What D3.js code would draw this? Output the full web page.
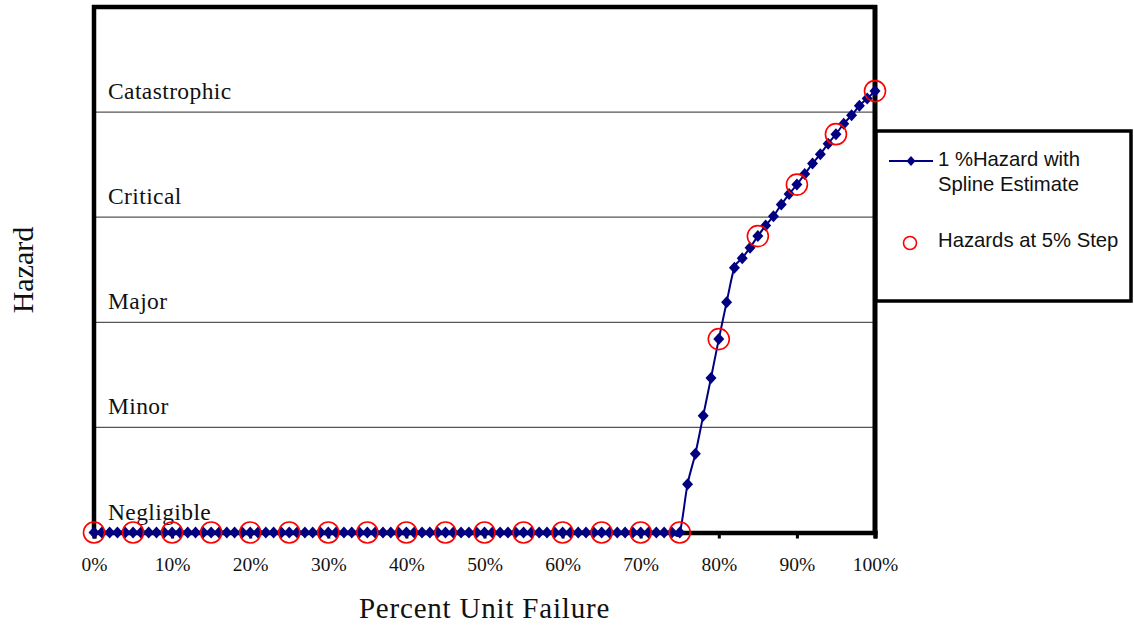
<!DOCTYPE html>
<html>
<head>
<meta charset="utf-8">
<script src="https://cdn.jsdelivr.net/npm/d3@7"></script>
<style>
html,body{margin:0;padding:0;background:#fff;}
svg{display:block;}
</style>
</head>
<body>
<svg id="chart" width="1134" height="626"></svg>
<script>
// ---- data ----
const percents = d3.range(0, 101); // 0%..100% in 1% steps
const hazardValues = [
  0,0,0,0,0,0,0,0,0,0,
  0,0,0,0,0,0,0,0,0,0,
  0,0,0,0,0,0,0,0,0,0,
  0,0,0,0,0,0,0,0,0,0,
  0,0,0,0,0,0,0,0,0,0,
  0,0,0,0,0,0,0,0,0,0,
  0,0,0,0,0,0,0,0,0,0,
  0,0,0,0,0,0,
  0.46,0.75,1.11,1.47,1.84,2.19,2.52,2.61,2.71,2.82,
  2.92,3.01,3.12,3.22,3.31,3.41,3.51,3.60,3.70,3.79,
  3.89,3.97,4.06,4.13,4.20
];
const stepPercents = [0,5,10,15,20,25,30,35,40,45,50,55,60,65,70,75,80,85,90,95,100];
const levelNames = ["Negligible","Minor","Major","Critical","Catastrophic"];
const levelValues = [0,1,2,3,4];
const gridValues = [1,2,3,4];
const xTickValues = [0,10,20,30,40,50,60,70,80,90,100];
const seriesNames = ["1 %Hazard with|Spline Estimate","Hazards at 5% Step"];

const svg = d3.select("#chart");
const serif = "'Liberation Serif','Times New Roman',serif";
const sans = "'Liberation Sans',Arial,sans-serif";
const navy = "#000080";

const x = d3.scaleLinear().domain([0,100]).range([94,875]);
const y = d3.scaleLinear().domain([0,5]).range([532.5,7]);

// gridlines
svg.append("g").selectAll("line").data(gridValues).join("line")
  .attr("x1", x(0)).attr("x2", x(100))
  .attr("y1", d=>y(d)).attr("y2", d=>y(d))
  .attr("stroke","#555").attr("stroke-width",1.3);

// level labels
svg.append("g").selectAll("text").data(levelValues).join("text")
  .attr("x", 108).attr("y", d=>y(d)-13)
  .attr("font-family", serif).attr("font-size", 23.5)
  .attr("letter-spacing", 0.4)
  .attr("fill","#111")
  .text((d,i)=>levelNames[i]);

// frame
svg.append("line").attr("x1",x(0)).attr("x2",x(0)).attr("y1",y(5)-2).attr("y2",y(0))
  .attr("stroke","#000").attr("stroke-width",4.5);
svg.append("line").attr("x1",x(0)-2).attr("x2",x(100)+2).attr("y1",y(5)).attr("y2",y(5))
  .attr("stroke","#000").attr("stroke-width",4.5);
svg.append("line").attr("x1",x(100)).attr("x2",x(100)).attr("y1",y(5)-2).attr("y2",y(0)+2)
  .attr("stroke","#000").attr("stroke-width",5);

// x axis
const xAxis = d3.axisBottom(x).tickValues(xTickValues).tickSize(6)
  .tickFormat(d=>d+"%");
const gx = svg.append("g").attr("transform",`translate(0,${y(0)})`).call(xAxis);
gx.select(".domain").attr("stroke","#000").attr("stroke-width",4.5);
gx.selectAll(".tick line").attr("stroke","#000").attr("stroke-width",3);
gx.selectAll(".tick text").attr("font-family",serif).attr("font-size",19.5)
  .attr("fill","#111").attr("y",null).attr("dy",null)
  .attr("transform","translate(0,38.5)");

// series line
const pts = percents.map((p,i)=>({p, v:hazardValues[i]}));
const line = d3.line().x(d=>x(d.p)).y(d=>y(d.v)).curve(d3.curveCardinal);
svg.append("path").datum(pts).attr("d",line)
  .attr("fill","none").attr("stroke",navy).attr("stroke-width",2);

const diamond = (hw,hh)=>`M0,${-hh}L${hw},0L0,${hh}L${-hw},0Z`;
svg.append("g").selectAll("path").data(pts).join("path")
  .attr("transform", d=>`translate(${x(d.p)},${y(d.v)})`)
  .attr("d", diamond(5.5,6)).attr("fill",navy);

// 5% step circles
const stepPts = stepPercents.map(p=>({p, v:hazardValues[percents.indexOf(p)]}));
svg.append("g").selectAll("circle").data(stepPts).join("circle")
  .attr("cx", d=>x(d.p)).attr("cy", d=>y(d.v)).attr("r",10.5)
  .attr("fill","none").attr("stroke","#ff0000").attr("stroke-width",1.6);

// axis titles
svg.append("text").attr("x",484.5).attr("y",618).attr("text-anchor","middle")
  .attr("font-family",serif).attr("font-size",29).attr("fill","#111")
  .attr("letter-spacing",0.8)
  .text("Percent Unit Failure");
svg.append("text").attr("transform","translate(33,270) rotate(-90)")
  .attr("text-anchor","middle").attr("font-family",serif).attr("font-size",30)
  .attr("fill","#111").text("Hazard");

// legend
const lg = svg.append("g");
lg.append("rect").attr("x",876).attr("y",131).attr("width",255).attr("height",170)
  .attr("fill","#fff").attr("stroke","#000").attr("stroke-width",3.5);
lg.append("line").attr("x1",889).attr("x2",933).attr("y1",161).attr("y2",161)
  .attr("stroke",navy).attr("stroke-width",1.8);
lg.append("path").attr("transform","translate(911,161)").attr("d",diamond(4.5,5)).attr("fill",navy);
const l1 = seriesNames[0].split("|");
const lgFont = 20.3;
lg.append("text").attr("x",938).attr("y",166).attr("font-family",sans).attr("font-size",lgFont)
  .attr("fill","#111").text(l1[0]);
lg.append("text").attr("x",938).attr("y",191).attr("font-family",sans).attr("font-size",lgFont)
  .attr("fill","#111").text(l1[1]);
lg.append("circle").attr("cx",910).attr("cy",243).attr("r",6.5)
  .attr("fill","none").attr("stroke","#ff0000").attr("stroke-width",1.6);
lg.append("text").attr("x",938).attr("y",247).attr("font-family",sans).attr("font-size",lgFont)
  .attr("fill","#111").text(seriesNames[1]);
</script>
</body>
</html>
